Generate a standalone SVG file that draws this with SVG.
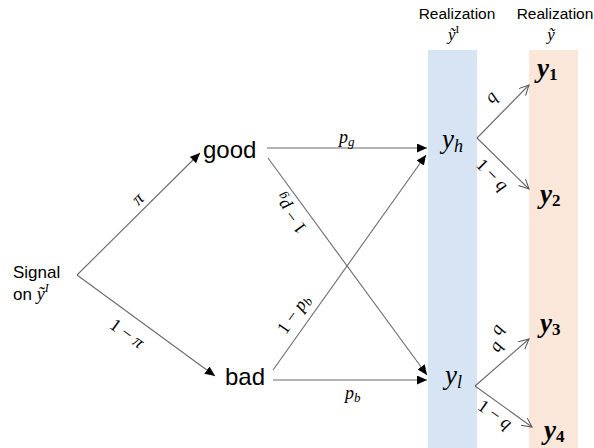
<svg xmlns="http://www.w3.org/2000/svg" width="594" height="448" viewBox="0 0 594 448">
<style>
.sans{font-family:"Liberation Sans",Arial,sans-serif;fill:#000}
.m{font-family:"Liberation Serif","Times New Roman",serif;font-style:italic;fill:#000}
.up{font-style:normal}
.lab{font-size:18px}
.yb{font-family:"Liberation Serif","Times New Roman",serif;font-style:italic;font-weight:bold;font-size:27px;fill:#000}
.sub{font-style:normal;font-size:17px}
.ln{stroke:#6b6b6b;stroke-width:1.1;fill:none}
</style>
<defs>
<marker id="fa" markerUnits="userSpaceOnUse" markerWidth="12" markerHeight="10" refX="10" refY="4.5" orient="auto">
<path d="M0,0 L10,4.5 L0,9 z" fill="#000"/>
</marker>
<marker id="oa" markerUnits="userSpaceOnUse" markerWidth="12" markerHeight="12" refX="10" refY="5" orient="auto">
<path d="M0,0 L10,5 L0,10" fill="none" stroke="#555" stroke-width="1"/>
</marker>
</defs>
<rect x="428" y="50" width="49" height="398" fill="#d6e4f3"/>
<rect x="529" y="50" width="49" height="398" fill="#fbe6da"/>
<g id="headers">
<text class="sans" x="457" y="19" font-size="15.5" text-anchor="middle">Realization</text>
<text class="m" x="448" y="40" font-size="17">ỹ<tspan class="up" font-size="11" dy="-7">I</tspan></text>
<text class="sans" x="555" y="19" font-size="15.5" text-anchor="middle">Realization</text>
<text class="m" x="551" y="40" font-size="17" text-anchor="middle">ỹ</text>
</g>
<g id="connectors">
<line class="ln" x1="77" y1="275" x2="200" y2="153" marker-end="url(#fa)"/>
<line class="ln" x1="77" y1="275" x2="215" y2="376" marker-end="url(#fa)"/>
<line class="ln" x1="267" y1="148" x2="427" y2="148" marker-end="url(#fa)"/>
<line class="ln" x1="268" y1="158" x2="427" y2="375" marker-end="url(#fa)"/>
<line class="ln" x1="273" y1="370" x2="426" y2="155" marker-end="url(#fa)"/>
<line class="ln" x1="273" y1="380" x2="427" y2="380" marker-end="url(#fa)"/>
<line class="ln" x1="477" y1="138" x2="529" y2="85" marker-end="url(#oa)"/>
<line class="ln" x1="477" y1="138" x2="529" y2="189" marker-end="url(#oa)"/>
<line class="ln" x1="475" y1="386" x2="529" y2="339" marker-end="url(#oa)"/>
<line class="ln" x1="475" y1="386" x2="532" y2="427" marker-end="url(#oa)"/>
</g>
<g id="edge-labels">
<text class="m lab" transform="translate(139,200) rotate(-44.8)" text-anchor="middle" dy="4">π</text>
<text class="m lab" transform="translate(126,335) rotate(36)" text-anchor="middle" dy="4"><tspan class="up">1 − </tspan>π</text>
<text class="m lab" x="339" y="143">p<tspan font-size="13" dy="3">g</tspan></text>
<text class="m lab" transform="translate(291,213) rotate(-126.3)" text-anchor="middle" dy="4"><tspan class="up">1 − </tspan>p<tspan font-size="13" dy="3">g</tspan></text>
<text class="m lab" transform="translate(295,315) rotate(-54.7)" text-anchor="middle" dy="4"><tspan class="up">1 − </tspan>p<tspan font-size="13" dy="3">b</tspan></text>
<text class="m lab" x="345" y="399">p<tspan font-size="13" dy="3">b</tspan></text>
<text class="m lab" transform="translate(492,98) rotate(-45)" text-anchor="middle" dy="4">q</text>
<text class="m lab" transform="translate(491,176) rotate(45)" text-anchor="middle" dy="4"><tspan class="up">1 − </tspan>q</text>
<text class="m lab" transform="translate(498,330) rotate(-60)" text-anchor="middle" dy="4">q</text>
<text class="m lab" transform="translate(497,347) rotate(-60)" text-anchor="middle" dy="4">q</text>
<text class="m lab" transform="translate(494,416) rotate(35)" text-anchor="middle" dy="4"><tspan class="up">1 − </tspan>q</text>
</g>
<g id="signal">
<text class="sans" x="13" y="278" font-size="17">Signal</text>
<text class="sans" x="13" y="300" font-size="17">on <tspan class="m" font-size="18">ỹ</tspan><tspan class="m" font-size="12" dy="-8">I</tspan></text>
</g>
<g id="good"><text class="sans" x="203" y="158" font-size="24">good</text></g>
<g id="bad"><text class="sans" x="225" y="385" font-size="24">bad</text></g>
<g id="yh"><text class="m" x="442" y="148" font-size="27">y<tspan font-size="18" dy="4">h</tspan></text></g>
<g id="yl"><text class="m" x="445" y="384" font-size="27">y<tspan font-size="18" dy="4">l</tspan></text></g>
<g id="y1"><text class="yb" x="537" y="77">y<tspan class="sub" dy="3">1</tspan></text></g>
<g id="y2"><text class="yb" x="540" y="203">y<tspan class="sub" dy="3">2</tspan></text></g>
<g id="y3"><text class="yb" x="540" y="332">y<tspan class="sub" dy="3">3</tspan></text></g>
<g id="y4"><text class="yb" x="544" y="439">y<tspan class="sub" dy="3">4</tspan></text></g>
</svg>
